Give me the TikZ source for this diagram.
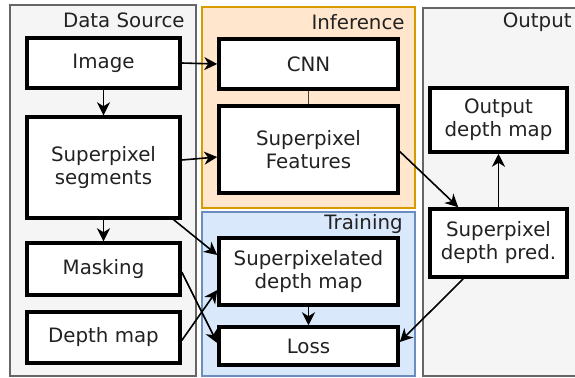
\documentclass[tikz,border=0pt]{standalone}
\usepackage{fontspec}
\setmainfont{DejaVu Sans}
\usetikzlibrary{arrows.meta}
\definecolor{grayfill}{HTML}{F5F5F5}
\definecolor{grayline}{HTML}{666666}
\definecolor{orangefill}{HTML}{FFE6CC}
\definecolor{orangeline}{HTML}{D79B00}
\definecolor{bluefill}{HTML}{DAE8FC}
\definecolor{blueline}{HTML}{6C8EBF}
\definecolor{ink}{HTML}{222222}
\tikzset{
  panel/.style={line width=0.75pt},
  paneltitle/.style={anchor=east, inner sep=0pt, text=ink},
  stepbox/.style={draw=black, fill=white, line width=1.75pt, inner sep=0pt,
    align=center, text=ink, minimum width=#1},
  stepbox/.default=76.5pt,
  conn/.style={draw=black, line width=0.8pt, -{Stealth[length=6.5pt,width=6.5pt,inset=2pt]}},
  plainconn/.style={draw=black!75, line width=0.8pt},
}
\begin{document}
\begin{tikzpicture}[x=0.5pt, y=-0.5pt, font=\fontsize{9.9pt}{11.5pt}\selectfont]
\useasboundingbox (0,0) rectangle (575,377);
% panels
\draw[panel, fill=grayfill, draw=grayline] (10,5) rectangle (196,376);
\draw[panel, fill=orangefill, draw=orangeline] (202,7) rectangle (415,208);
\draw[panel, fill=bluefill, draw=blueline] (202,212) rectangle (415,376);
\draw[panel, fill=grayfill, draw=grayline] (423,8) rectangle (585,376);
\node[paneltitle] (tds) at (185,20) {Data Source};
\node[paneltitle] (tinf) at (405,22) {Inference};
\node[paneltitle] (ttr) at (403,224) {Training};
\node[paneltitle] (tout) at (572,22) {Output};
% data source
\node[stepbox, minimum height=25pt] (img) at (103.5,63) {Image};
\node[stepbox, minimum height=50.5pt] (seg) at (103.5,167.5) {Superpixel\\segments};
\node[stepbox, minimum height=26pt] (mask) at (103.5,269) {Masking};
\node[stepbox, minimum height=25.5pt] (dmap) at (103.5,337.5) {Depth map};
% inference
\node[stepbox=89.5pt, minimum height=25pt] (cnn) at (308.5,64) {CNN};
\node[stepbox=89.5pt, minimum height=43.5pt] (feat) at (308.5,149.5) {Superpixel\\Features};
% training
\node[stepbox=89.5pt, minimum height=33.5pt] (spdm) at (308.5,271.5) {Superpixelated\\depth map};
\node[stepbox=89.5pt, minimum height=19pt] (loss) at (308.5,346) {Loss};
% output
\node[stepbox=68.5pt, minimum height=32pt] (odm) at (498.5,120) {Output\\depth map};
\node[stepbox=68.5pt, minimum height=34pt] (pred) at (498.5,243) {Superpixel\\depth pred.};
% connectors
\draw[conn] (img.east) -- (cnn.west);
\draw[conn] (img.south) -- (seg.north);
\draw[conn] ([yshift=3.75pt]seg.east) -- ([yshift=-3.75pt]feat.west);
\draw[plainconn] (cnn.south) -- (feat.north);
\draw[conn] (seg.south) -- (mask.north);
\draw[conn] ([xshift=-4pt]seg.south east) -- ([yshift=8.25pt]spdm.west);
\draw[conn] ([yshift=-1.5pt]mask.east) -- ([yshift=1.5pt]loss.west);
\draw[conn] ([yshift=-1.5pt]dmap.east) -- ([yshift=-9.25pt]spdm.west);
\draw[conn] (spdm.south) -- (loss.north);
\draw[conn] ([yshift=-1pt]feat.east) -- ([xshift=15pt]pred.north west);
\draw[conn] (pred.north) -- (odm.south);
\draw[conn] ([xshift=17.5pt]pred.south west) -- ([yshift=2pt]loss.east);
\end{tikzpicture}
\end{document}
